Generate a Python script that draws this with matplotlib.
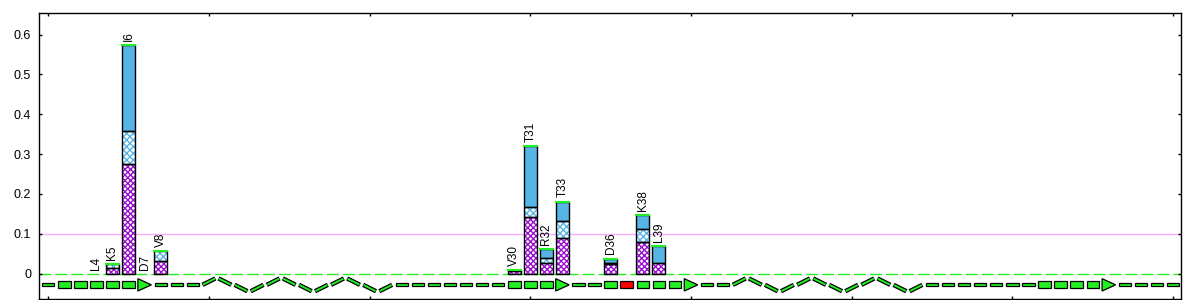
import numpy as np
import matplotlib
matplotlib.use('Agg')
import matplotlib.pyplot as plt
from matplotlib.patches import Rectangle, Polygon

plt.rcParams['font.family'] = ['Liberation Sans', 'DejaVu Sans']
plt.rcParams['hatch.linewidth'] = 1.0

# residues with a bar / label
bar_pos = [4, 5, 6, 7, 8, 30, 31, 32, 33, 36, 38, 39]
bar_labels = ['L4', 'K5', 'I6', 'D7', 'V8', 'V30', 'T31', 'R32', 'T33', 'D36', 'K38', 'L39']
part_a = [0, 0.015, 0.276, 0, 0.033, 0.006, 0.142, 0.028, 0.090, 0.025, 0.080, 0.028]
part_b = [0, 0.010, 0.081, 0, 0.023, 0.002, 0.026, 0.012, 0.043, 0.003, 0.032, 0.0]
part_c = [0, 0.0, 0.216, 0, 0.0, 0.002, 0.153, 0.021, 0.048, 0.010, 0.034, 0.042]

# secondary structure, one char per residue 1..71
# C coil, E strand, A strand end (arrow), B red box, H helix
sec_struct = ('C' + 'EEEEEA' + 'CCC' + 'H' * 12 + 'C' * 7 + 'EEEA' + 'CC'
              + 'EBEEEA' + 'CC' + 'H' * 12 + 'C' * 7 + 'EEEEA' + 'CCCC')
n_res = len(sec_struct)

threshold = 0.1
ss_y = -0.028

green = '#22ee22'
blue = '#56b4e6'
purple = '#9a10d0'

fig = plt.figure(figsize=(12, 3), dpi=100)
ax = fig.add_axes([0.0328, 0.004, 0.9515, 0.954])

x = np.array(bar_pos)
a = np.array(part_a)
b = np.array(part_b)
c = np.array(part_c)
w = 0.8

ax.axhline(threshold, color='#ffaaff', lw=1, zorder=1)
ax.axhline(0, color=green, lw=1, dashes=(8.5, 3), zorder=1)

# stacked bars, hatch first then black outline
ax.bar(x, a, w, color='white', edgecolor=purple, hatch='xxxxxx', lw=0, zorder=2)
ax.bar(x, b, w, bottom=a, color='white', edgecolor=blue, hatch='xxxxx', lw=0, zorder=2)
ax.bar(x, c, w, bottom=a + b, color=blue, lw=0, zorder=2)
for xi, ai, bi, ci in zip(x, a, b, c):
    tot = ai + bi + ci
    if tot <= 0:
        continue
    for lo, h in [(0, ai), (ai, bi), (ai + bi, ci)]:
        if h > 0:
            ax.add_patch(Rectangle((xi - w / 2, lo), w, h, fill=False,
                                   ec='black', lw=1, zorder=3))
    ax.plot([xi - w / 2, xi + w / 2], [tot, tot], color=green, lw=1.5, zorder=4)

for xi, ai, bi, ci, lab in zip(x, a, b, c, bar_labels):
    ax.annotate(lab, (xi, ai + bi + ci), xytext=(0, 3), textcoords='offset points',
                rotation=90, ha='center', va='bottom', fontsize=8.5)

# secondary structure track
lev_start = [0, 1, 0, -1]
lev_end = [1, 0, -1, 0]
amp = 0.016
k = 0
for i, s in enumerate(sec_struct):
    r = i + 1
    if s != 'H':
        k = 0
    if s == 'C':
        ax.add_patch(Rectangle((r - 0.38, ss_y - 0.0038), 0.76, 0.0076,
                               fc=green, ec='black', lw=0.9, zorder=3))
    elif s in 'EB':
        ax.add_patch(Rectangle((r - 0.39, ss_y - 0.0088), 0.78, 0.0176,
                               fc='red' if s == 'B' else green, ec='black', lw=0.9, zorder=3))
    elif s == 'A':
        ax.add_patch(Polygon([(r - 0.42, ss_y - 0.0155), (r - 0.42, ss_y + 0.0155),
                              (r + 0.42, ss_y)], closed=True,
                             fc=green, ec='black', lw=0.9, zorder=3))
    elif s == 'H':
        y0 = ss_y + amp * lev_start[k % 4]
        y1 = ss_y + amp * lev_end[k % 4]
        ax.plot([r - 0.4, r + 0.4], [y0, y1], color='black', lw=3.2,
                solid_capstyle='butt', zorder=3)
        ax.plot([r - 0.37, r + 0.37], [y0 + (y1 - y0) * 0.03, y1 - (y1 - y0) * 0.03],
                color=green, lw=1.4, solid_capstyle='butt', zorder=4)
        k += 1

ax.set_xlim(0.45, n_res + 0.5)
ax.set_ylim(-0.063, 0.655)
ax.set_xticks(np.arange(1, n_res + 1, 10))
ax.set_xticklabels([])
ax.set_yticks(np.arange(0, 0.61, 0.1))
ax.set_yticklabels(['0', '0.1', '0.2', '0.3', '0.4', '0.5', '0.6'])
ax.tick_params(direction='in', top=True, right=True, length=2.5, width=1,
               labelsize=9, pad=6)
for sp in ax.spines.values():
    sp.set_linewidth(1)

fig.savefig('out.png', dpi=100)
